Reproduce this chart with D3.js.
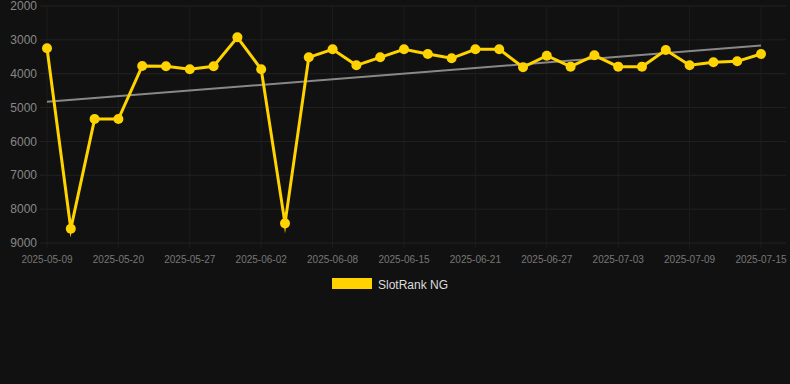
<!DOCTYPE html>
<html lang="en">
<head>
  <meta charset="UTF-8">
  <title>SlotRank NG</title>
  <script src="https://d3js.org/d3.v7.min.js"></script>
  <style>
    html, body { margin: 0; padding: 0; background: #111111; }
    svg { display: block; font-family: "Liberation Sans", Arial, sans-serif; }
  </style>
</head>
<body>
<script>
  // dates on the category axis (only every third one is labelled)
  const dates = [
    "2025-05-09", "2025-05-13", "2025-05-16", "2025-05-20", "2025-05-22", "2025-05-25",
    "2025-05-27", "2025-05-29", "2025-05-31", "2025-06-02", "2025-06-04", "2025-06-06",
    "2025-06-08", "2025-06-10", "2025-06-13", "2025-06-15", "2025-06-17", "2025-06-19",
    "2025-06-21", "2025-06-23", "2025-06-25", "2025-06-27", "2025-06-29", "2025-07-01",
    "2025-07-03", "2025-07-05", "2025-07-07", "2025-07-09", "2025-07-11", "2025-07-13",
    "2025-07-15"
  ];
  // rank values (lower = better, axis is reversed)
  const ranks = [
    3250, 8580, 5340, 5340, 3770, 3780, 3870, 3780, 2925, 3870, 8420,
    3516, 3280, 3752, 3516, 3280, 3418, 3545, 3280, 3280, 3811, 3467,
    3791, 3457, 3791, 3791, 3300, 3752, 3663, 3634, 3418
  ];
  // trend line ends
  const trend = [4830, 3170];
  const yTicks = [2000, 3000, 4000, 5000, 6000, 7000, 8000, 9000];
  const seriesName = "SlotRank NG";

  const width = 790, height = 384;
  const gridLeft = 40, gridRight = 786;

  const svg = d3.select("body").append("svg")
      .attr("width", width)
      .attr("height", height);

  svg.append("rect").attr("width", width).attr("height", height).attr("fill", "#111111");

  const x = d3.scalePoint().domain(dates).range([47, 761]);
  const y = d3.scaleLinear().domain([2000, 9000]).range([6, 243]);

  const labelled = dates.filter((d, i) => i % 3 === 0);

  // grid
  svg.append("g").selectAll("line.h")
      .data(yTicks)
      .enter().append("line")
      .attr("x1", gridLeft).attr("x2", gridRight)
      .attr("y1", d => y(d)).attr("y2", d => y(d))
      .attr("stroke", "#222222").attr("stroke-width", 1);

  svg.append("g").selectAll("line.v")
      .data(labelled)
      .enter().append("line")
      .attr("x1", d => x(d)).attr("x2", d => x(d))
      .attr("y1", y(2000)).attr("y2", y(9000) + 5)
      .attr("stroke", "#1d1d1d").attr("stroke-width", 1);

  // y axis labels
  svg.append("g").selectAll("text")
      .data(yTicks)
      .enter().append("text")
      .attr("x", 37)
      .attr("y", d => y(d))
      .attr("dy", "0.35em")
      .attr("text-anchor", "end")
      .attr("fill", "#888888")
      .attr("font-size", 12)
      .text(d => d);

  // x axis labels
  svg.append("g").selectAll("text")
      .data(labelled)
      .enter().append("text")
      .attr("x", d => x(d))
      .attr("y", 263)
      .attr("text-anchor", "middle")
      .attr("fill", "#777777")
      .attr("font-size", 10)
      .text(d => d);

  // trend line
  svg.append("line")
      .attr("x1", x(dates[0])).attr("y1", y(trend[0]))
      .attr("x2", x(dates[dates.length - 1])).attr("y2", y(trend[1]))
      .attr("stroke", "#888888").attr("stroke-width", 2);

  // series
  const data = dates.map((d, i) => ({date: d, value: ranks[i]}));

  const line = d3.line()
      .x(d => x(d.date))
      .y(d => y(d.value));

  svg.append("path")
      .datum(data)
      .attr("d", line)
      .attr("fill", "none")
      .attr("stroke", "#FFD300")
      .attr("stroke-width", 3)
      .attr("stroke-linejoin", "miter")
      .attr("stroke-miterlimit", 10);

  svg.append("g").selectAll("circle")
      .data(data)
      .enter().append("circle")
      .attr("cx", d => x(d.date))
      .attr("cy", d => y(d.value))
      .attr("r", 5)
      .attr("fill", "#FFD300");

  // legend
  svg.append("rect")
      .attr("x", 332).attr("y", 278)
      .attr("width", 40).attr("height", 11)
      .attr("fill", "#FFD300");

  svg.append("text")
      .attr("x", 378).attr("y", 285)
      .attr("dy", "0.35em")
      .attr("fill", "#dddddd")
      .attr("font-size", 12)
      .text(seriesName);
</script>
</body>
</html>
